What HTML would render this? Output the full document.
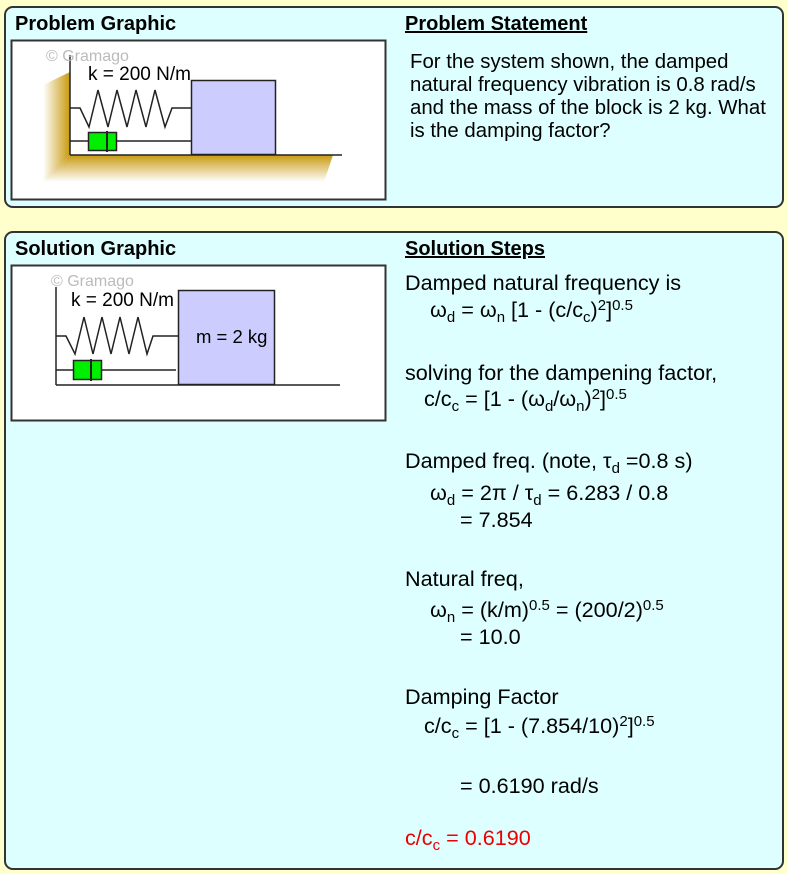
<!DOCTYPE html>
<html><head><style>
body{margin:0;width:787px;height:874px;background:#FFFFCC;position:relative;font-family:"Liberation Sans",sans-serif;overflow:hidden}
.p{position:absolute;background:#DDFFFF;border:2px solid #333;border-radius:9px;box-sizing:border-box}
.t{position:absolute;font-size:21.6px;color:#000;white-space:nowrap;line-height:1}
.h{font-weight:bold;font-size:20px}
.s{font-size:20.4px}
.u{text-decoration:underline}
sub,sup{font-size:15px}
sub{vertical-align:-5px}sup{vertical-align:7px}
svg{position:absolute;left:0;top:0}
</style></head><body>
<div class="p" style="left:4px;top:6px;width:780px;height:202px"></div>
<div class="p" style="left:4px;top:231px;width:780px;height:639px"></div>
<svg width="787" height="874">
<defs>
<linearGradient id="gw" x1="0" x2="1"><stop offset="0" stop-color="#fff"/><stop offset="1" stop-color="#C89A10"/></linearGradient>
<linearGradient id="gg" x1="0" y1="0" x2="0" y2="1"><stop offset="0" stop-color="#C89A10"/><stop offset="1" stop-color="#fff"/></linearGradient>
</defs>
<rect x="11.5" y="40.5" width="374" height="159" fill="#fff" stroke="#333" stroke-width="2"/>
<polygon points="43,85 70,72 70,155 43,182" fill="url(#gw)"/>
<polygon points="70,155 333,155 324,182 43,182" fill="url(#gg)"/>
<g stroke="#222" stroke-width="1.5" fill="none">
<line x1="70" y1="55" x2="70" y2="155"/><line x1="70" y1="155" x2="342" y2="155"/>
<polyline points="70,108 80,108 89,127 98,90 108,127 117,90 127,127 136,90 146,127 155,90 165,127 172,108 191,108"/>
<line x1="70" y1="141" x2="191" y2="141"/>
</g>
<rect x="191.5" y="80.5" width="84" height="74" fill="#CCCCFF" stroke="#222" stroke-width="1.5"/>
<rect x="88.5" y="132.5" width="28" height="18" fill="#00EE00" stroke="#222" stroke-width="1.5"/>
<line x1="107" y1="131" x2="107" y2="152" stroke="#222" stroke-width="2"/>
<text x="46" y="61" font-size="16" fill="#bbb" font-family="Liberation Sans">© Gramago</text>
<text x="88" y="80" font-size="19" font-family="Liberation Sans">k = 200 N/m</text>

<rect x="11.5" y="265.5" width="374" height="155" fill="#fff" stroke="#333" stroke-width="2"/>
<g stroke="#222" stroke-width="1.5" fill="none">
<line x1="56" y1="287" x2="56" y2="385"/><line x1="56" y1="385" x2="340" y2="385"/>
<polyline points="56,336 66,336 75,354 84,317 93,354 102,317 111,354 120,317 129,354 138,317 147,354 153,336 178,336"/>
<line x1="56" y1="370" x2="176" y2="370"/>
</g>
<rect x="178.5" y="290.5" width="96" height="94" fill="#CCCCFF" stroke="#222" stroke-width="1.5"/>
<rect x="73.5" y="360.5" width="28" height="19" fill="#00EE00" stroke="#222" stroke-width="1.5"/>
<line x1="91" y1="359" x2="91" y2="381" stroke="#222" stroke-width="2"/>
<text x="51" y="286" font-size="16" fill="#bbb" font-family="Liberation Sans">© Gramago</text>
<text x="71" y="306" font-size="19" font-family="Liberation Sans">k = 200 N/m</text>
<text x="196" y="343" font-size="18.5" font-family="Liberation Sans">m = 2 kg</text>
</svg>
<div class="t h" style="left:15px;top:14px">Problem Graphic</div>
<div class="t h u" style="left:405px;top:14px">Problem Statement</div>
<div class="t s" style="left:410px;top:51px;line-height:23px">For the system shown, the damped<br>natural frequency vibration is 0.8 rad/s<br>and the mass of the block is 2 kg. What<br>is the damping factor?</div>
<div class="t h" style="left:15px;top:239px">Solution Graphic</div>
<div class="t h u" style="left:405px;top:239px">Solution Steps</div>
<div class="t" style="left:405px;top:272px">Damped natural frequency is</div>
<div class="t" style="left:430px;top:298px">ω<sub>d</sub> = ω<sub>n</sub> [1 - (c/c<sub>c</sub>)<sup>2</sup>]<sup>0.5</sup></div>
<div class="t" style="left:405px;top:362px">solving for the dampening factor,</div>
<div class="t" style="left:424px;top:387px">c/c<sub>c</sub> = [1 - (ω<sub>d</sub>/ω<sub>n</sub>)<sup>2</sup>]<sup>0.5</sup></div>
<div class="t" style="left:405px;top:450px">Damped freq. (note, τ<sub>d</sub> =0.8 s)</div>
<div class="t" style="left:430px;top:482px">ω<sub>d</sub> = 2π / τ<sub>d</sub> = 6.283 / 0.8</div>
<div class="t" style="left:460px;top:509px">= 7.854</div>
<div class="t" style="left:405px;top:568px">Natural freq,</div>
<div class="t" style="left:430px;top:598px">ω<sub>n</sub> = (k/m)<sup>0.5</sup> = (200/2)<sup>0.5</sup></div>
<div class="t" style="left:460px;top:626px">= 10.0</div>
<div class="t" style="left:405px;top:686px">Damping Factor</div>
<div class="t" style="left:424px;top:714px">c/c<sub>c</sub> = [1 - (7.854/10)<sup>2</sup>]<sup>0.5</sup></div>
<div class="t" style="left:460px;top:775px">= 0.6190 rad/s</div>
<div class="t" style="left:405px;top:827px;color:#EE0000">c/c<sub>c</sub> = 0.6190</div>
</body></html>
